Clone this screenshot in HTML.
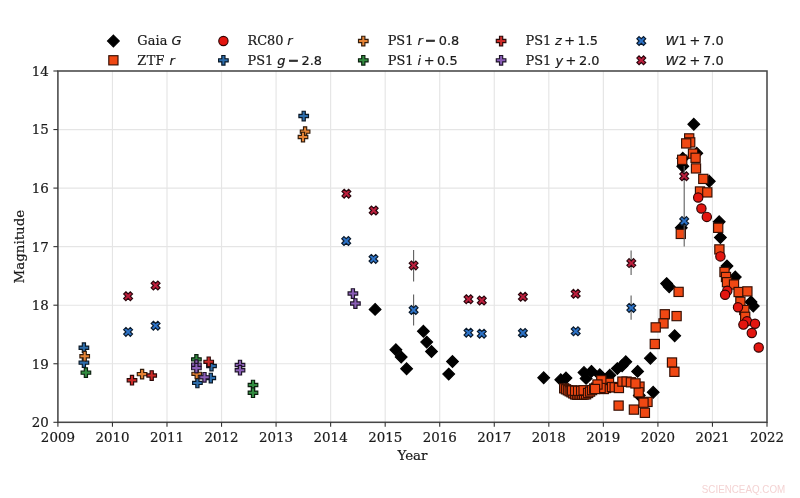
<!DOCTYPE html>
<html><head><meta charset="utf-8"><title>Light curve</title>
<style>
html,body{margin:0;padding:0;background:#fff;}
body{width:800px;height:498px;overflow:hidden;}
svg{display:block;}
text{font-family:"DejaVu Serif","Liberation Serif",serif;font-size:13.4px;fill:#1a1a1a;stroke:#1a1a1a;stroke-width:0.2px;}
.m{font-family:"DejaVu Sans","Liberation Sans",sans-serif;}
.mi{font-family:"DejaVu Sans","Liberation Sans",sans-serif;font-style:italic;}
.lg{font-size:12.9px;}
.mn{stroke-width:0.7px;}
.wm{font-family:"Liberation Sans",sans-serif;font-size:11.6px;fill:#f4d3d3;stroke:none;}
</style></head><body>
<svg width="800" height="498" viewBox="0 0 800 498">
<rect width="800" height="498" fill="#fff"/>
<g stroke="#e5e5e5" stroke-width="1.15" fill="none"><line x1="112.45" y1="71.00" x2="112.45" y2="422.30"/><line x1="166.99" y1="71.00" x2="166.99" y2="422.30"/><line x1="221.54" y1="71.00" x2="221.54" y2="422.30"/><line x1="276.08" y1="71.00" x2="276.08" y2="422.30"/><line x1="330.63" y1="71.00" x2="330.63" y2="422.30"/><line x1="385.18" y1="71.00" x2="385.18" y2="422.30"/><line x1="439.72" y1="71.00" x2="439.72" y2="422.30"/><line x1="494.27" y1="71.00" x2="494.27" y2="422.30"/><line x1="548.82" y1="71.00" x2="548.82" y2="422.30"/><line x1="603.36" y1="71.00" x2="603.36" y2="422.30"/><line x1="657.91" y1="71.00" x2="657.91" y2="422.30"/><line x1="712.45" y1="71.00" x2="712.45" y2="422.30"/><line x1="57.90" y1="129.55" x2="767.00" y2="129.55"/><line x1="57.90" y1="188.10" x2="767.00" y2="188.10"/><line x1="57.90" y1="246.65" x2="767.00" y2="246.65"/><line x1="57.90" y1="305.20" x2="767.00" y2="305.20"/><line x1="57.90" y1="363.75" x2="767.00" y2="363.75"/></g>
<g><polygon points="375.10,303.53 380.97,309.40 375.10,315.27 369.23,309.40" fill="#000000" stroke="#000" stroke-width="1.15"/><polygon points="395.90,343.83 401.77,349.70 395.90,355.57 390.03,349.70" fill="#000000" stroke="#000" stroke-width="1.15"/><polygon points="401.20,351.13 407.07,357.00 401.20,362.87 395.33,357.00" fill="#000000" stroke="#000" stroke-width="1.15"/><polygon points="406.60,362.83 412.47,368.70 406.60,374.57 400.73,368.70" fill="#000000" stroke="#000" stroke-width="1.15"/><polygon points="423.40,325.43 429.27,331.30 423.40,337.17 417.53,331.30" fill="#000000" stroke="#000" stroke-width="1.15"/><polygon points="426.70,336.23 432.57,342.10 426.70,347.97 420.83,342.10" fill="#000000" stroke="#000" stroke-width="1.15"/><polygon points="431.50,345.63 437.37,351.50 431.50,357.37 425.63,351.50" fill="#000000" stroke="#000" stroke-width="1.15"/><polygon points="452.50,355.63 458.37,361.50 452.50,367.37 446.63,361.50" fill="#000000" stroke="#000" stroke-width="1.15"/><polygon points="448.70,368.23 454.57,374.10 448.70,379.97 442.83,374.10" fill="#000000" stroke="#000" stroke-width="1.15"/><polygon points="543.70,371.93 549.57,377.80 543.70,383.67 537.83,377.80" fill="#000000" stroke="#000" stroke-width="1.15"/><polygon points="560.80,373.93 566.67,379.80 560.80,385.67 554.93,379.80" fill="#000000" stroke="#000" stroke-width="1.15"/><polygon points="566.00,372.13 571.87,378.00 566.00,383.87 560.13,378.00" fill="#000000" stroke="#000" stroke-width="1.15"/><polygon points="584.00,366.63 589.87,372.50 584.00,378.37 578.13,372.50" fill="#000000" stroke="#000" stroke-width="1.15"/><polygon points="591.40,365.53 597.27,371.40 591.40,377.27 585.53,371.40" fill="#000000" stroke="#000" stroke-width="1.15"/><polygon points="599.80,368.93 605.67,374.80 599.80,380.67 593.93,374.80" fill="#000000" stroke="#000" stroke-width="1.15"/><polygon points="609.80,369.33 615.67,375.20 609.80,381.07 603.93,375.20" fill="#000000" stroke="#000" stroke-width="1.15"/><polygon points="586.10,372.53 591.97,378.40 586.10,384.27 580.23,378.40" fill="#000000" stroke="#000" stroke-width="1.15"/><polygon points="617.30,362.73 623.17,368.60 617.30,374.47 611.43,368.60" fill="#000000" stroke="#000" stroke-width="1.15"/><polygon points="622.10,359.83 627.97,365.70 622.10,371.57 616.23,365.70" fill="#000000" stroke="#000" stroke-width="1.15"/><polygon points="625.80,355.83 631.67,361.70 625.80,367.57 619.93,361.70" fill="#000000" stroke="#000" stroke-width="1.15"/><polygon points="637.60,365.53 643.47,371.40 637.60,377.27 631.73,371.40" fill="#000000" stroke="#000" stroke-width="1.15"/><polygon points="650.40,352.33 656.27,358.20 650.40,364.07 644.53,358.20" fill="#000000" stroke="#000" stroke-width="1.15"/><polygon points="653.20,386.43 659.07,392.30 653.20,398.17 647.33,392.30" fill="#000000" stroke="#000" stroke-width="1.15"/><polygon points="639.30,389.53 645.17,395.40 639.30,401.27 633.43,395.40" fill="#000000" stroke="#000" stroke-width="1.15"/><polygon points="666.60,277.73 672.47,283.60 666.60,289.47 660.73,283.60" fill="#000000" stroke="#000" stroke-width="1.15"/><polygon points="669.20,280.83 675.07,286.70 669.20,292.57 663.33,286.70" fill="#000000" stroke="#000" stroke-width="1.15"/><polygon points="674.70,329.83 680.57,335.70 674.70,341.57 668.83,335.70" fill="#000000" stroke="#000" stroke-width="1.15"/><polygon points="693.80,118.33 699.67,124.20 693.80,130.07 687.93,124.20" fill="#000000" stroke="#000" stroke-width="1.15"/><polygon points="696.80,147.33 702.67,153.20 696.80,159.07 690.93,153.20" fill="#000000" stroke="#000" stroke-width="1.15"/><polygon points="682.80,152.33 688.67,158.20 682.80,164.07 676.93,158.20" fill="#000000" stroke="#000" stroke-width="1.15"/><polygon points="682.80,160.43 688.67,166.30 682.80,172.17 676.93,166.30" fill="#000000" stroke="#000" stroke-width="1.15"/><polygon points="709.30,175.43 715.17,181.30 709.30,187.17 703.43,181.30" fill="#000000" stroke="#000" stroke-width="1.15"/><polygon points="681.30,221.93 687.17,227.80 681.30,233.67 675.43,227.80" fill="#000000" stroke="#000" stroke-width="1.15"/><polygon points="719.20,215.93 725.07,221.80 719.20,227.67 713.33,221.80" fill="#000000" stroke="#000" stroke-width="1.15"/><polygon points="720.40,231.63 726.27,237.50 720.40,243.37 714.53,237.50" fill="#000000" stroke="#000" stroke-width="1.15"/><polygon points="727.00,260.13 732.87,266.00 727.00,271.87 721.13,266.00" fill="#000000" stroke="#000" stroke-width="1.15"/><polygon points="735.30,271.13 741.17,277.00 735.30,282.87 729.43,277.00" fill="#000000" stroke="#000" stroke-width="1.15"/><polygon points="751.00,296.03 756.87,301.90 751.00,307.77 745.13,301.90" fill="#000000" stroke="#000" stroke-width="1.15"/><polygon points="753.30,300.13 759.17,306.00 753.30,311.87 747.43,306.00" fill="#000000" stroke="#000" stroke-width="1.15"/></g>
<g><rect x="559.60" y="383.70" width="9.20" height="9.20" fill="#f04813" stroke="#340f04" stroke-width="1.15"/><rect x="561.40" y="384.70" width="9.20" height="9.20" fill="#f04813" stroke="#340f04" stroke-width="1.15"/><rect x="563.30" y="385.70" width="9.20" height="9.20" fill="#f04813" stroke="#340f04" stroke-width="1.15"/><rect x="565.10" y="386.70" width="9.20" height="9.20" fill="#f04813" stroke="#340f04" stroke-width="1.15"/><rect x="566.90" y="387.70" width="9.20" height="9.20" fill="#f04813" stroke="#340f04" stroke-width="1.15"/><rect x="568.70" y="388.80" width="9.20" height="9.20" fill="#f04813" stroke="#340f04" stroke-width="1.15"/><rect x="570.50" y="389.80" width="9.20" height="9.20" fill="#f04813" stroke="#340f04" stroke-width="1.15"/><rect x="572.30" y="390.10" width="9.20" height="9.20" fill="#f04813" stroke="#340f04" stroke-width="1.15"/><rect x="574.10" y="390.10" width="9.20" height="9.20" fill="#f04813" stroke="#340f04" stroke-width="1.15"/><rect x="575.90" y="390.10" width="9.20" height="9.20" fill="#f04813" stroke="#340f04" stroke-width="1.15"/><rect x="577.70" y="390.10" width="9.20" height="9.20" fill="#f04813" stroke="#340f04" stroke-width="1.15"/><rect x="579.50" y="389.90" width="9.20" height="9.20" fill="#f04813" stroke="#340f04" stroke-width="1.15"/><rect x="581.50" y="389.70" width="9.20" height="9.20" fill="#f04813" stroke="#340f04" stroke-width="1.15"/><rect x="567.50" y="385.90" width="9.20" height="9.20" fill="#f04813" stroke="#340f04" stroke-width="1.15"/><rect x="570.50" y="386.20" width="9.20" height="9.20" fill="#f04813" stroke="#340f04" stroke-width="1.15"/><rect x="573.50" y="386.20" width="9.20" height="9.20" fill="#f04813" stroke="#340f04" stroke-width="1.15"/><rect x="576.50" y="386.20" width="9.20" height="9.20" fill="#f04813" stroke="#340f04" stroke-width="1.15"/><rect x="579.00" y="385.70" width="9.20" height="9.20" fill="#f04813" stroke="#340f04" stroke-width="1.15"/><rect x="583.50" y="388.40" width="9.20" height="9.20" fill="#f04813" stroke="#340f04" stroke-width="1.15"/><rect x="585.50" y="387.00" width="9.20" height="9.20" fill="#f04813" stroke="#340f04" stroke-width="1.15"/><rect x="587.50" y="385.50" width="9.20" height="9.20" fill="#f04813" stroke="#340f04" stroke-width="1.15"/><rect x="589.60" y="384.00" width="9.20" height="9.20" fill="#f04813" stroke="#340f04" stroke-width="1.15"/><rect x="591.60" y="383.00" width="9.20" height="9.20" fill="#f04813" stroke="#340f04" stroke-width="1.15"/><rect x="593.60" y="384.00" width="9.20" height="9.20" fill="#f04813" stroke="#340f04" stroke-width="1.15"/><rect x="595.10" y="383.50" width="9.20" height="9.20" fill="#f04813" stroke="#340f04" stroke-width="1.15"/><rect x="596.10" y="381.50" width="9.20" height="9.20" fill="#f04813" stroke="#340f04" stroke-width="1.15"/><rect x="596.80" y="376.90" width="9.20" height="9.20" fill="#f04813" stroke="#340f04" stroke-width="1.15"/><rect x="598.60" y="381.00" width="9.20" height="9.20" fill="#f04813" stroke="#340f04" stroke-width="1.15"/><rect x="604.40" y="378.40" width="9.20" height="9.20" fill="#f04813" stroke="#340f04" stroke-width="1.15"/><rect x="601.40" y="383.40" width="9.20" height="9.20" fill="#f04813" stroke="#340f04" stroke-width="1.15"/><rect x="599.20" y="384.40" width="9.20" height="9.20" fill="#f04813" stroke="#340f04" stroke-width="1.15"/><rect x="596.70" y="375.60" width="9.20" height="9.20" fill="#f04813" stroke="#340f04" stroke-width="1.15"/><rect x="596.00" y="383.40" width="9.20" height="9.20" fill="#f04813" stroke="#340f04" stroke-width="1.15"/><rect x="592.90" y="379.90" width="9.20" height="9.20" fill="#f04813" stroke="#340f04" stroke-width="1.15"/><rect x="590.40" y="384.40" width="9.20" height="9.20" fill="#f04813" stroke="#340f04" stroke-width="1.15"/><rect x="607.40" y="382.40" width="9.20" height="9.20" fill="#f04813" stroke="#340f04" stroke-width="1.15"/><rect x="610.10" y="382.70" width="9.20" height="9.20" fill="#f04813" stroke="#340f04" stroke-width="1.15"/><rect x="614.30" y="383.40" width="9.20" height="9.20" fill="#f04813" stroke="#340f04" stroke-width="1.15"/><rect x="617.80" y="377.00" width="9.20" height="9.20" fill="#f04813" stroke="#340f04" stroke-width="1.15"/><rect x="622.00" y="377.00" width="9.20" height="9.20" fill="#f04813" stroke="#340f04" stroke-width="1.15"/><rect x="626.30" y="377.70" width="9.20" height="9.20" fill="#f04813" stroke="#340f04" stroke-width="1.15"/><rect x="650.20" y="339.40" width="9.20" height="9.20" fill="#f04813" stroke="#340f04" stroke-width="1.15"/><rect x="667.40" y="357.90" width="9.20" height="9.20" fill="#f04813" stroke="#340f04" stroke-width="1.15"/><rect x="669.80" y="367.20" width="9.20" height="9.20" fill="#f04813" stroke="#340f04" stroke-width="1.15"/><rect x="614.00" y="401.00" width="9.20" height="9.20" fill="#f04813" stroke="#340f04" stroke-width="1.15"/><rect x="629.30" y="405.00" width="9.20" height="9.20" fill="#f04813" stroke="#340f04" stroke-width="1.15"/><rect x="640.30" y="408.20" width="9.20" height="9.20" fill="#f04813" stroke="#340f04" stroke-width="1.15"/><rect x="642.90" y="397.30" width="9.20" height="9.20" fill="#f04813" stroke="#340f04" stroke-width="1.15"/><rect x="638.90" y="398.10" width="9.20" height="9.20" fill="#f04813" stroke="#340f04" stroke-width="1.15"/><rect x="634.90" y="382.00" width="9.20" height="9.20" fill="#f04813" stroke="#340f04" stroke-width="1.15"/><rect x="634.10" y="387.70" width="9.20" height="9.20" fill="#f04813" stroke="#340f04" stroke-width="1.15"/><rect x="630.90" y="378.80" width="9.20" height="9.20" fill="#f04813" stroke="#340f04" stroke-width="1.15"/><rect x="674.00" y="287.30" width="9.20" height="9.20" fill="#f04813" stroke="#340f04" stroke-width="1.15"/><rect x="660.20" y="309.70" width="9.20" height="9.20" fill="#f04813" stroke="#340f04" stroke-width="1.15"/><rect x="672.00" y="311.50" width="9.20" height="9.20" fill="#f04813" stroke="#340f04" stroke-width="1.15"/><rect x="658.90" y="318.80" width="9.20" height="9.20" fill="#f04813" stroke="#340f04" stroke-width="1.15"/><rect x="651.10" y="322.80" width="9.20" height="9.20" fill="#f04813" stroke="#340f04" stroke-width="1.15"/><rect x="684.60" y="133.80" width="9.20" height="9.20" fill="#f04813" stroke="#340f04" stroke-width="1.15"/><rect x="685.60" y="137.80" width="9.20" height="9.20" fill="#f04813" stroke="#340f04" stroke-width="1.15"/><rect x="681.60" y="138.80" width="9.20" height="9.20" fill="#f04813" stroke="#340f04" stroke-width="1.15"/><rect x="688.40" y="149.00" width="9.20" height="9.20" fill="#f04813" stroke="#340f04" stroke-width="1.15"/><rect x="691.00" y="153.20" width="9.20" height="9.20" fill="#f04813" stroke="#340f04" stroke-width="1.15"/><rect x="677.60" y="155.20" width="9.20" height="9.20" fill="#f04813" stroke="#340f04" stroke-width="1.15"/><rect x="691.40" y="163.80" width="9.20" height="9.20" fill="#f04813" stroke="#340f04" stroke-width="1.15"/><rect x="698.70" y="174.30" width="9.20" height="9.20" fill="#f04813" stroke="#340f04" stroke-width="1.15"/><rect x="695.40" y="186.90" width="9.20" height="9.20" fill="#f04813" stroke="#340f04" stroke-width="1.15"/><rect x="702.70" y="187.80" width="9.20" height="9.20" fill="#f04813" stroke="#340f04" stroke-width="1.15"/><rect x="676.20" y="229.30" width="9.20" height="9.20" fill="#f04813" stroke="#340f04" stroke-width="1.15"/><rect x="713.60" y="223.20" width="9.20" height="9.20" fill="#f04813" stroke="#340f04" stroke-width="1.15"/><rect x="714.80" y="244.80" width="9.20" height="9.20" fill="#f04813" stroke="#340f04" stroke-width="1.15"/><rect x="719.90" y="267.40" width="9.20" height="9.20" fill="#f04813" stroke="#340f04" stroke-width="1.15"/><rect x="721.40" y="272.40" width="9.20" height="9.20" fill="#f04813" stroke="#340f04" stroke-width="1.15"/><rect x="722.40" y="277.60" width="9.20" height="9.20" fill="#f04813" stroke="#340f04" stroke-width="1.15"/><rect x="729.40" y="279.90" width="9.20" height="9.20" fill="#f04813" stroke="#340f04" stroke-width="1.15"/><rect x="734.00" y="287.40" width="9.20" height="9.20" fill="#f04813" stroke="#340f04" stroke-width="1.15"/><rect x="742.80" y="286.80" width="9.20" height="9.20" fill="#f04813" stroke="#340f04" stroke-width="1.15"/><rect x="735.80" y="297.20" width="9.20" height="9.20" fill="#f04813" stroke="#340f04" stroke-width="1.15"/><rect x="739.70" y="305.40" width="9.20" height="9.20" fill="#f04813" stroke="#340f04" stroke-width="1.15"/><rect x="740.60" y="312.20" width="9.20" height="9.20" fill="#f04813" stroke="#340f04" stroke-width="1.15"/></g>
<g><circle cx="698.20" cy="197.50" r="4.65" fill="#e3150f" stroke="#310403" stroke-width="1.15"/><circle cx="701.40" cy="208.50" r="4.65" fill="#e3150f" stroke="#310403" stroke-width="1.15"/><circle cx="706.80" cy="216.90" r="4.65" fill="#e3150f" stroke="#310403" stroke-width="1.15"/><circle cx="720.40" cy="256.40" r="4.65" fill="#e3150f" stroke="#310403" stroke-width="1.15"/><circle cx="727.30" cy="290.80" r="4.65" fill="#e3150f" stroke="#310403" stroke-width="1.15"/><circle cx="725.10" cy="294.80" r="4.65" fill="#e3150f" stroke="#310403" stroke-width="1.15"/><circle cx="738.00" cy="307.20" r="4.65" fill="#e3150f" stroke="#310403" stroke-width="1.15"/><circle cx="747.00" cy="321.20" r="4.65" fill="#e3150f" stroke="#310403" stroke-width="1.15"/><circle cx="743.40" cy="324.60" r="4.65" fill="#e3150f" stroke="#310403" stroke-width="1.15"/><circle cx="755.00" cy="323.70" r="4.65" fill="#e3150f" stroke="#310403" stroke-width="1.15"/><circle cx="751.80" cy="333.00" r="4.65" fill="#e3150f" stroke="#310403" stroke-width="1.15"/><circle cx="758.70" cy="347.50" r="4.65" fill="#e3150f" stroke="#310403" stroke-width="1.15"/></g>
<g><polygon points="82.30,342.90 85.50,342.90 85.50,346.10 88.70,346.10 88.70,349.30 85.50,349.30 85.50,352.50 82.30,352.50 82.30,349.30 79.10,349.30 79.10,346.10 82.30,346.10" fill="#2d6dab" stroke="#091725" stroke-width="1.15" stroke-linejoin="miter"/><polygon points="82.30,357.80 85.50,357.80 85.50,361.00 88.70,361.00 88.70,364.20 85.50,364.20 85.50,367.40 82.30,367.40 82.30,364.20 79.10,364.20 79.10,361.00 82.30,361.00" fill="#2d6dab" stroke="#091725" stroke-width="1.15" stroke-linejoin="miter"/><polygon points="302.10,111.20 305.30,111.20 305.30,114.40 308.50,114.40 308.50,117.60 305.30,117.60 305.30,120.80 302.10,120.80 302.10,117.60 298.90,117.60 298.90,114.40 302.10,114.40" fill="#2d6dab" stroke="#091725" stroke-width="1.15" stroke-linejoin="miter"/><polygon points="195.80,378.10 199.00,378.10 199.00,381.30 202.20,381.30 202.20,384.50 199.00,384.50 199.00,387.70 195.80,387.70 195.80,384.50 192.60,384.50 192.60,381.30 195.80,381.30" fill="#2d6dab" stroke="#091725" stroke-width="1.15" stroke-linejoin="miter"/><polygon points="209.90,361.20 213.10,361.20 213.10,364.40 216.30,364.40 216.30,367.60 213.10,367.60 213.10,370.80 209.90,370.80 209.90,367.60 206.70,367.60 206.70,364.40 209.90,364.40" fill="#2d6dab" stroke="#091725" stroke-width="1.15" stroke-linejoin="miter"/><polygon points="209.20,373.20 212.40,373.20 212.40,376.40 215.60,376.40 215.60,379.60 212.40,379.60 212.40,382.80 209.20,382.80 209.20,379.60 206.00,379.60 206.00,376.40 209.20,376.40" fill="#2d6dab" stroke="#091725" stroke-width="1.15" stroke-linejoin="miter"/></g>
<g><polygon points="83.10,351.40 86.30,351.40 86.30,354.60 89.50,354.60 89.50,357.80 86.30,357.80 86.30,361.00 83.10,361.00 83.10,357.80 79.90,357.80 79.90,354.60 83.10,354.60" fill="#e58335" stroke="#321c0b" stroke-width="1.15" stroke-linejoin="miter"/><polygon points="140.50,369.30 143.70,369.30 143.70,372.50 146.90,372.50 146.90,375.70 143.70,375.70 143.70,378.90 140.50,378.90 140.50,375.70 137.30,375.70 137.30,372.50 140.50,372.50" fill="#e58335" stroke="#321c0b" stroke-width="1.15" stroke-linejoin="miter"/><polygon points="303.50,126.80 306.70,126.80 306.70,130.00 309.90,130.00 309.90,133.20 306.70,133.20 306.70,136.40 303.50,136.40 303.50,133.20 300.30,133.20 300.30,130.00 303.50,130.00" fill="#e58335" stroke="#321c0b" stroke-width="1.15" stroke-linejoin="miter"/><polygon points="301.40,132.20 304.60,132.20 304.60,135.40 307.80,135.40 307.80,138.60 304.60,138.60 304.60,141.80 301.40,141.80 301.40,138.60 298.20,138.60 298.20,135.40 301.40,135.40" fill="#e58335" stroke="#321c0b" stroke-width="1.15" stroke-linejoin="miter"/><polygon points="195.10,369.00 198.30,369.00 198.30,372.20 201.50,372.20 201.50,375.40 198.30,375.40 198.30,378.60 195.10,378.60 195.10,375.40 191.90,375.40 191.90,372.20 195.10,372.20" fill="#e58335" stroke="#321c0b" stroke-width="1.15" stroke-linejoin="miter"/></g>
<g><polygon points="84.30,367.80 87.50,367.80 87.50,371.00 90.70,371.00 90.70,374.20 87.50,374.20 87.50,377.40 84.30,377.40 84.30,374.20 81.10,374.20 81.10,371.00 84.30,371.00" fill="#328c40" stroke="#0b1e0e" stroke-width="1.15" stroke-linejoin="miter"/><polygon points="194.80,354.60 198.00,354.60 198.00,357.80 201.20,357.80 201.20,361.00 198.00,361.00 198.00,364.20 194.80,364.20 194.80,361.00 191.60,361.00 191.60,357.80 194.80,357.80" fill="#328c40" stroke="#0b1e0e" stroke-width="1.15" stroke-linejoin="miter"/><polygon points="251.40,380.20 254.60,380.20 254.60,383.40 257.80,383.40 257.80,386.60 254.60,386.60 254.60,389.80 251.40,389.80 251.40,386.60 248.20,386.60 248.20,383.40 251.40,383.40" fill="#328c40" stroke="#0b1e0e" stroke-width="1.15" stroke-linejoin="miter"/><polygon points="251.40,387.90 254.60,387.90 254.60,391.10 257.80,391.10 257.80,394.30 254.60,394.30 254.60,397.50 251.40,397.50 251.40,394.30 248.20,394.30 248.20,391.10 251.40,391.10" fill="#328c40" stroke="#0b1e0e" stroke-width="1.15" stroke-linejoin="miter"/></g>
<g><polygon points="130.40,375.40 133.60,375.40 133.60,378.60 136.80,378.60 136.80,381.80 133.60,381.80 133.60,385.00 130.40,385.00 130.40,381.80 127.20,381.80 127.20,378.60 130.40,378.60" fill="#cc2b28" stroke="#2c0908" stroke-width="1.15" stroke-linejoin="miter"/><polygon points="150.10,370.70 153.30,370.70 153.30,373.90 156.50,373.90 156.50,377.10 153.30,377.10 153.30,380.30 150.10,380.30 150.10,377.10 146.90,377.10 146.90,373.90 150.10,373.90" fill="#cc2b28" stroke="#2c0908" stroke-width="1.15" stroke-linejoin="miter"/><polygon points="207.10,357.00 210.30,357.00 210.30,360.20 213.50,360.20 213.50,363.40 210.30,363.40 210.30,366.60 207.10,366.60 207.10,363.40 203.90,363.40 203.90,360.20 207.10,360.20" fill="#cc2b28" stroke="#2c0908" stroke-width="1.15" stroke-linejoin="miter"/></g>
<g><polygon points="194.80,359.80 198.00,359.80 198.00,363.00 201.20,363.00 201.20,366.20 198.00,366.20 198.00,369.40 194.80,369.40 194.80,366.20 191.60,366.20 191.60,363.00 194.80,363.00" fill="#8a5eb6" stroke="#1e1428" stroke-width="1.15" stroke-linejoin="miter"/><polygon points="194.80,363.30 198.00,363.30 198.00,366.50 201.20,366.50 201.20,369.70 198.00,369.70 198.00,372.90 194.80,372.90 194.80,369.70 191.60,369.70 191.60,366.50 194.80,366.50" fill="#8a5eb6" stroke="#1e1428" stroke-width="1.15" stroke-linejoin="miter"/><polygon points="202.90,372.50 206.10,372.50 206.10,375.70 209.30,375.70 209.30,378.90 206.10,378.90 206.10,382.10 202.90,382.10 202.90,378.90 199.70,378.90 199.70,375.70 202.90,375.70" fill="#8a5eb6" stroke="#1e1428" stroke-width="1.15" stroke-linejoin="miter"/><polygon points="238.40,360.20 241.60,360.20 241.60,363.40 244.80,363.40 244.80,366.60 241.60,366.60 241.60,369.80 238.40,369.80 238.40,366.60 235.20,366.60 235.20,363.40 238.40,363.40" fill="#8a5eb6" stroke="#1e1428" stroke-width="1.15" stroke-linejoin="miter"/><polygon points="238.40,365.40 241.60,365.40 241.60,368.60 244.80,368.60 244.80,371.80 241.60,371.80 241.60,375.00 238.40,375.00 238.40,371.80 235.20,371.80 235.20,368.60 238.40,368.60" fill="#8a5eb6" stroke="#1e1428" stroke-width="1.15" stroke-linejoin="miter"/><polygon points="351.30,288.70 354.50,288.70 354.50,291.90 357.70,291.90 357.70,295.10 354.50,295.10 354.50,298.30 351.30,298.30 351.30,295.10 348.10,295.10 348.10,291.90 351.30,291.90" fill="#8a5eb6" stroke="#1e1428" stroke-width="1.15" stroke-linejoin="miter"/><polygon points="353.80,298.70 357.00,298.70 357.00,301.90 360.20,301.90 360.20,305.10 357.00,305.10 357.00,308.30 353.80,308.30 353.80,305.10 350.60,305.10 350.60,301.90 353.80,301.90" fill="#8a5eb6" stroke="#1e1428" stroke-width="1.15" stroke-linejoin="miter"/></g>
<g stroke="#5e5e5e" stroke-width="1.1"><line x1="413.60" y1="250.00" x2="413.60" y2="281.50"/><line x1="413.60" y1="294.40" x2="413.60" y2="325.60"/><line x1="631.10" y1="250.40" x2="631.10" y2="275.00"/><line x1="631.10" y1="295.60" x2="631.10" y2="319.80"/><line x1="684.20" y1="166.00" x2="684.20" y2="246.50"/></g>
<g><polygon points="125.88,327.45 128.10,329.67 130.32,327.45 132.55,329.67 130.32,331.90 132.55,334.12 130.32,336.35 128.10,334.12 125.88,336.35 123.65,334.12 125.88,331.90 123.65,329.67" fill="#2d72c6" stroke="#09192b" stroke-width="1.15" stroke-linejoin="miter"/><polygon points="153.38,321.25 155.60,323.47 157.82,321.25 160.05,323.47 157.82,325.70 160.05,327.93 157.82,330.15 155.60,327.93 153.38,330.15 151.15,327.93 153.38,325.70 151.15,323.47" fill="#2d72c6" stroke="#09192b" stroke-width="1.15" stroke-linejoin="miter"/><polygon points="343.97,236.55 346.20,238.78 348.43,236.55 350.65,238.78 348.43,241.00 350.65,243.22 348.43,245.45 346.20,243.22 343.97,245.45 341.75,243.22 343.97,241.00 341.75,238.78" fill="#2d72c6" stroke="#09192b" stroke-width="1.15" stroke-linejoin="miter"/><polygon points="371.27,254.45 373.50,256.67 375.73,254.45 377.95,256.67 375.73,258.90 377.95,261.12 375.73,263.35 373.50,261.12 371.27,263.35 369.05,261.12 371.27,258.90 369.05,256.67" fill="#2d72c6" stroke="#09192b" stroke-width="1.15" stroke-linejoin="miter"/><polygon points="411.38,305.55 413.60,307.77 415.83,305.55 418.05,307.77 415.83,310.00 418.05,312.23 415.83,314.45 413.60,312.23 411.38,314.45 409.15,312.23 411.38,310.00 409.15,307.77" fill="#2d72c6" stroke="#09192b" stroke-width="1.15" stroke-linejoin="miter"/><polygon points="466.27,328.25 468.50,330.47 470.73,328.25 472.95,330.47 470.73,332.70 472.95,334.93 470.73,337.15 468.50,334.93 466.27,337.15 464.05,334.93 466.27,332.70 464.05,330.47" fill="#2d72c6" stroke="#09192b" stroke-width="1.15" stroke-linejoin="miter"/><polygon points="479.57,329.25 481.80,331.47 484.03,329.25 486.25,331.47 484.03,333.70 486.25,335.93 484.03,338.15 481.80,335.93 479.57,338.15 477.35,335.93 479.57,333.70 477.35,331.47" fill="#2d72c6" stroke="#09192b" stroke-width="1.15" stroke-linejoin="miter"/><polygon points="520.67,328.55 522.90,330.77 525.12,328.55 527.35,330.77 525.12,333.00 527.35,335.23 525.12,337.45 522.90,335.23 520.67,337.45 518.45,335.23 520.67,333.00 518.45,330.77" fill="#2d72c6" stroke="#09192b" stroke-width="1.15" stroke-linejoin="miter"/><polygon points="573.48,326.85 575.70,329.07 577.93,326.85 580.15,329.07 577.93,331.30 580.15,333.53 577.93,335.75 575.70,333.53 573.48,335.75 571.25,333.53 573.48,331.30 571.25,329.07" fill="#2d72c6" stroke="#09192b" stroke-width="1.15" stroke-linejoin="miter"/><polygon points="629.07,303.45 631.30,305.67 633.52,303.45 635.75,305.67 633.52,307.90 635.75,310.12 633.52,312.35 631.30,310.12 629.07,312.35 626.85,310.12 629.07,307.90 626.85,305.67" fill="#2d72c6" stroke="#09192b" stroke-width="1.15" stroke-linejoin="miter"/><polygon points="681.98,216.65 684.20,218.88 686.43,216.65 688.65,218.88 686.43,221.10 688.65,223.32 686.43,225.55 684.20,223.32 681.98,225.55 679.75,223.32 681.98,221.10 679.75,218.88" fill="#2d72c6" stroke="#09192b" stroke-width="1.15" stroke-linejoin="miter"/></g>
<g><polygon points="125.88,291.75 128.10,293.97 130.32,291.75 132.55,293.97 130.32,296.20 132.55,298.43 130.32,300.65 128.10,298.43 125.88,300.65 123.65,298.43 125.88,296.20 123.65,293.97" fill="#bd1f3d" stroke="#29060d" stroke-width="1.15" stroke-linejoin="miter"/><polygon points="153.38,281.05 155.60,283.27 157.82,281.05 160.05,283.27 157.82,285.50 160.05,287.73 157.82,289.95 155.60,287.73 153.38,289.95 151.15,287.73 153.38,285.50 151.15,283.27" fill="#bd1f3d" stroke="#29060d" stroke-width="1.15" stroke-linejoin="miter"/><polygon points="344.17,189.25 346.40,191.47 348.62,189.25 350.85,191.47 348.62,193.70 350.85,195.92 348.62,198.15 346.40,195.92 344.17,198.15 341.95,195.92 344.17,193.70 341.95,191.47" fill="#bd1f3d" stroke="#29060d" stroke-width="1.15" stroke-linejoin="miter"/><polygon points="371.47,206.05 373.70,208.28 375.93,206.05 378.15,208.28 375.93,210.50 378.15,212.72 375.93,214.95 373.70,212.72 371.47,214.95 369.25,212.72 371.47,210.50 369.25,208.28" fill="#bd1f3d" stroke="#29060d" stroke-width="1.15" stroke-linejoin="miter"/><polygon points="411.38,260.95 413.60,263.17 415.83,260.95 418.05,263.17 415.83,265.40 418.05,267.62 415.83,269.85 413.60,267.62 411.38,269.85 409.15,267.62 411.38,265.40 409.15,263.17" fill="#bd1f3d" stroke="#29060d" stroke-width="1.15" stroke-linejoin="miter"/><polygon points="466.27,294.75 468.50,296.97 470.73,294.75 472.95,296.97 470.73,299.20 472.95,301.43 470.73,303.65 468.50,301.43 466.27,303.65 464.05,301.43 466.27,299.20 464.05,296.97" fill="#bd1f3d" stroke="#29060d" stroke-width="1.15" stroke-linejoin="miter"/><polygon points="479.57,296.05 481.80,298.27 484.03,296.05 486.25,298.27 484.03,300.50 486.25,302.73 484.03,304.95 481.80,302.73 479.57,304.95 477.35,302.73 479.57,300.50 477.35,298.27" fill="#bd1f3d" stroke="#29060d" stroke-width="1.15" stroke-linejoin="miter"/><polygon points="520.67,292.35 522.90,294.57 525.12,292.35 527.35,294.57 525.12,296.80 527.35,299.03 525.12,301.25 522.90,299.03 520.67,301.25 518.45,299.03 520.67,296.80 518.45,294.57" fill="#bd1f3d" stroke="#29060d" stroke-width="1.15" stroke-linejoin="miter"/><polygon points="573.48,289.35 575.70,291.57 577.93,289.35 580.15,291.57 577.93,293.80 580.15,296.03 577.93,298.25 575.70,296.03 573.48,298.25 571.25,296.03 573.48,293.80 571.25,291.57" fill="#bd1f3d" stroke="#29060d" stroke-width="1.15" stroke-linejoin="miter"/><polygon points="629.07,258.65 631.30,260.88 633.52,258.65 635.75,260.88 633.52,263.10 635.75,265.33 633.52,267.55 631.30,265.33 629.07,267.55 626.85,265.33 629.07,263.10 626.85,260.88" fill="#bd1f3d" stroke="#29060d" stroke-width="1.15" stroke-linejoin="miter"/><polygon points="681.98,171.75 684.20,173.97 686.43,171.75 688.65,173.97 686.43,176.20 688.65,178.42 686.43,180.65 684.20,178.42 681.98,180.65 679.75,178.42 681.98,176.20 679.75,173.97" fill="#bd1f3d" stroke="#29060d" stroke-width="1.15" stroke-linejoin="miter"/></g>
<rect x="57.90" y="71.00" width="709.10" height="351.30" fill="none" stroke="#474747" stroke-width="1.55"/>
<g stroke="#333" stroke-width="1.1"><line x1="57.90" y1="422.30" x2="57.90" y2="426.80"/><line x1="112.45" y1="422.30" x2="112.45" y2="426.80"/><line x1="166.99" y1="422.30" x2="166.99" y2="426.80"/><line x1="221.54" y1="422.30" x2="221.54" y2="426.80"/><line x1="276.08" y1="422.30" x2="276.08" y2="426.80"/><line x1="330.63" y1="422.30" x2="330.63" y2="426.80"/><line x1="385.18" y1="422.30" x2="385.18" y2="426.80"/><line x1="439.72" y1="422.30" x2="439.72" y2="426.80"/><line x1="494.27" y1="422.30" x2="494.27" y2="426.80"/><line x1="548.82" y1="422.30" x2="548.82" y2="426.80"/><line x1="603.36" y1="422.30" x2="603.36" y2="426.80"/><line x1="657.91" y1="422.30" x2="657.91" y2="426.80"/><line x1="712.45" y1="422.30" x2="712.45" y2="426.80"/><line x1="767.00" y1="422.30" x2="767.00" y2="426.80"/><line x1="53.40" y1="71.00" x2="57.90" y2="71.00"/><line x1="53.40" y1="129.55" x2="57.90" y2="129.55"/><line x1="53.40" y1="188.10" x2="57.90" y2="188.10"/><line x1="53.40" y1="246.65" x2="57.90" y2="246.65"/><line x1="53.40" y1="305.20" x2="57.90" y2="305.20"/><line x1="53.40" y1="363.75" x2="57.90" y2="363.75"/><line x1="53.40" y1="422.30" x2="57.90" y2="422.30"/></g>
<g><text x="57.90" y="441.60" text-anchor="middle">2009</text><text x="112.45" y="441.60" text-anchor="middle">2010</text><text x="166.99" y="441.60" text-anchor="middle">2011</text><text x="221.54" y="441.60" text-anchor="middle">2012</text><text x="276.08" y="441.60" text-anchor="middle">2013</text><text x="330.63" y="441.60" text-anchor="middle">2014</text><text x="385.18" y="441.60" text-anchor="middle">2015</text><text x="439.72" y="441.60" text-anchor="middle">2016</text><text x="494.27" y="441.60" text-anchor="middle">2017</text><text x="548.82" y="441.60" text-anchor="middle">2018</text><text x="603.36" y="441.60" text-anchor="middle">2019</text><text x="657.91" y="441.60" text-anchor="middle">2020</text><text x="712.45" y="441.60" text-anchor="middle">2021</text><text x="767.00" y="441.60" text-anchor="middle">2022</text><text x="48.90" y="75.90" text-anchor="end">14</text><text x="48.90" y="134.45" text-anchor="end">15</text><text x="48.90" y="193.00" text-anchor="end">16</text><text x="48.90" y="251.55" text-anchor="end">17</text><text x="48.90" y="310.10" text-anchor="end">18</text><text x="48.90" y="368.65" text-anchor="end">19</text><text x="48.90" y="427.20" text-anchor="end">20</text></g>
<text x="412.45" y="460.40" text-anchor="middle">Year</text>
<text transform="translate(23.50,246.65) rotate(-90)" text-anchor="middle">Magnitude</text>
<polygon points="113.40,35.13 119.27,41.00 113.40,46.87 107.53,41.00" fill="#000000" stroke="#000" stroke-width="1.15"/><text class="lg" x="137.30" y="45.30" textLength="44.3" lengthAdjust="spacing" xml:space="preserve">Gaia <tspan class="mi">G</tspan></text>
<rect x="108.80" y="55.70" width="9.20" height="9.20" fill="#f04813" stroke="#340f04" stroke-width="1.15"/><text class="lg" x="137.30" y="64.60" textLength="37.4" lengthAdjust="spacing" xml:space="preserve">ZTF <tspan class="mi">r</tspan></text>
<circle cx="223.40" cy="41.00" r="4.65" fill="#e3150f" stroke="#310403" stroke-width="1.15"/><text class="lg" x="247.60" y="45.30" textLength="45.0" lengthAdjust="spacing" xml:space="preserve">RC80 <tspan class="mi">r</tspan></text>
<polygon points="221.80,55.50 225.00,55.50 225.00,58.70 228.20,58.70 228.20,61.90 225.00,61.90 225.00,65.10 221.80,65.10 221.80,61.90 218.60,61.90 218.60,58.70 221.80,58.70" fill="#2d6dab" stroke="#091725" stroke-width="1.15" stroke-linejoin="miter"/><text class="lg" x="247.60" y="64.60" textLength="74.4" lengthAdjust="spacing" xml:space="preserve">PS1 <tspan class="mi">g</tspan><tspan class="m mn" dx="2.6">−</tspan><tspan class="m" dx="2.6">2.8</tspan></text>
<polygon points="361.70,36.20 364.90,36.20 364.90,39.40 368.10,39.40 368.10,42.60 364.90,42.60 364.90,45.80 361.70,45.80 361.70,42.60 358.50,42.60 358.50,39.40 361.70,39.40" fill="#e58335" stroke="#321c0b" stroke-width="1.15" stroke-linejoin="miter"/><text class="lg" x="387.70" y="45.30" textLength="71.5" lengthAdjust="spacing" xml:space="preserve">PS1 <tspan class="mi">r</tspan><tspan class="m mn" dx="2.6">−</tspan><tspan class="m" dx="2.6">0.8</tspan></text>
<polygon points="361.70,55.50 364.90,55.50 364.90,58.70 368.10,58.70 368.10,61.90 364.90,61.90 364.90,65.10 361.70,65.10 361.70,61.90 358.50,61.90 358.50,58.70 361.70,58.70" fill="#328c40" stroke="#0b1e0e" stroke-width="1.15" stroke-linejoin="miter"/><text class="lg" x="387.70" y="64.60" textLength="69.9" lengthAdjust="spacing" xml:space="preserve">PS1 <tspan class="mi">i</tspan><tspan class="m" dx="2.6">+</tspan><tspan class="m" dx="2.6">0.5</tspan></text>
<polygon points="499.50,36.20 502.70,36.20 502.70,39.40 505.90,39.40 505.90,42.60 502.70,42.60 502.70,45.80 499.50,45.80 499.50,42.60 496.30,42.60 496.30,39.40 499.50,39.40" fill="#cc2b28" stroke="#2c0908" stroke-width="1.15" stroke-linejoin="miter"/><text class="lg" x="525.60" y="45.30" textLength="72.3" lengthAdjust="spacing" xml:space="preserve">PS1 <tspan class="mi">z</tspan><tspan class="m" dx="2.6">+</tspan><tspan class="m" dx="2.6">1.5</tspan></text>
<polygon points="499.50,55.50 502.70,55.50 502.70,58.70 505.90,58.70 505.90,61.90 502.70,61.90 502.70,65.10 499.50,65.10 499.50,61.90 496.30,61.90 496.30,58.70 499.50,58.70" fill="#8a5eb6" stroke="#1e1428" stroke-width="1.15" stroke-linejoin="miter"/><text class="lg" x="525.60" y="64.60" textLength="73.9" lengthAdjust="spacing" xml:space="preserve">PS1 <tspan class="mi">y</tspan><tspan class="m" dx="2.6">+</tspan><tspan class="m" dx="2.6">2.0</tspan></text>
<polygon points="639.07,36.55 641.30,38.77 643.52,36.55 645.75,38.77 643.52,41.00 645.75,43.23 643.52,45.45 641.30,43.23 639.07,45.45 636.85,43.23 639.07,41.00 636.85,38.77" fill="#2d72c6" stroke="#09192b" stroke-width="1.15" stroke-linejoin="miter"/><text class="lg" x="665.50" y="45.30" textLength="58.3" lengthAdjust="spacing" xml:space="preserve"><tspan class="mi">W</tspan><tspan class="m">1</tspan><tspan class="m" dx="2.6">+</tspan><tspan class="m" dx="2.6">7.0</tspan></text>
<polygon points="639.07,55.85 641.30,58.07 643.52,55.85 645.75,58.07 643.52,60.30 645.75,62.52 643.52,64.75 641.30,62.52 639.07,64.75 636.85,62.52 639.07,60.30 636.85,58.07" fill="#bd1f3d" stroke="#29060d" stroke-width="1.15" stroke-linejoin="miter"/><text class="lg" x="665.50" y="64.60" textLength="58.3" lengthAdjust="spacing" xml:space="preserve"><tspan class="mi">W</tspan><tspan class="m">2</tspan><tspan class="m" dx="2.6">+</tspan><tspan class="m" dx="2.6">7.0</tspan></text>
<text class="wm" x="701.8" y="493.3" textLength="83.4" lengthAdjust="spacingAndGlyphs">SCIENCEAQ.COM</text>
</svg></body></html>
